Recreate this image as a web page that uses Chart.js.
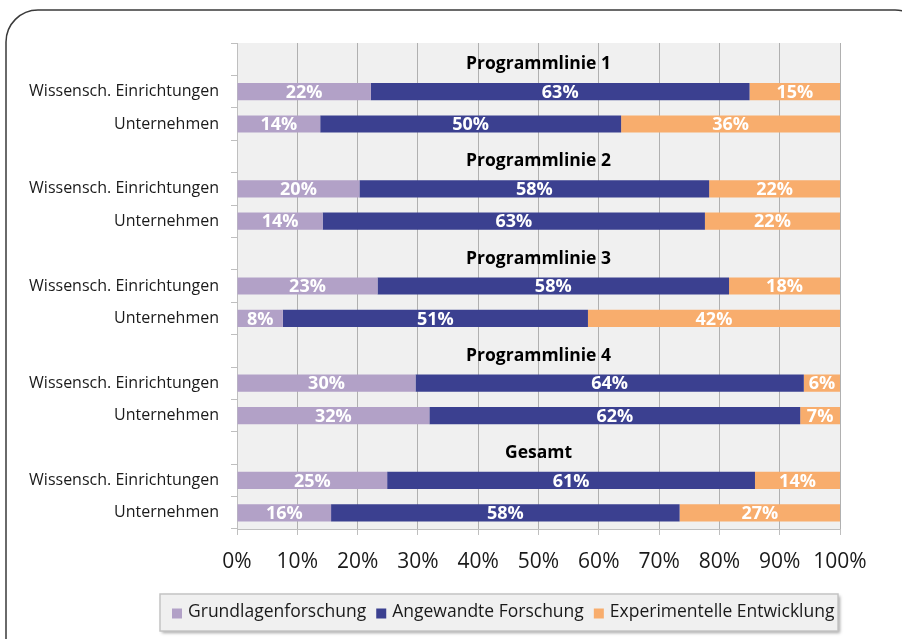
<!DOCTYPE html>
<html>
<head>
<meta charset="utf-8">
<script src="https://cdn.jsdelivr.net/npm/chart.js@4.4.1/dist/chart.umd.min.js"></script>
<style>
    html, body { margin: 0; padding: 0; background: #fff; }
    #wrap { width: 902px; height: 639px; }
</style>
</head>
<body>
<div id="wrap"><canvas id="chart" width="902" height="639"></canvas></div>
<script>
// Gruppen (Überschriften) und Zeilen je Gruppe
const groups = ['Programmlinie 1', 'Programmlinie 2', 'Programmlinie 3', 'Programmlinie 4', 'Gesamt'];
const rowLabels = ['Wissensch. Einrichtungen', 'Unternehmen'];

// Anteile in %, je Gruppe: Wissensch. Einrichtungen, Unternehmen
const grundlagen    = [22.2, 13.8, 20.3, 14.2, 23.3, 7.6, 29.6, 31.9, 24.9, 15.6];
const angewandt     = [62.8, 49.9, 58.0, 63.4, 58.3, 50.6, 64.4, 61.5, 61.0, 57.8];
const experimentell = [15.0, 36.3, 21.7, 22.4, 18.4, 41.8, 6.0, 6.6, 14.1, 26.6];

const seriesNames = ['Grundlagenforschung', 'Angewandte Forschung', 'Experimentelle Entwicklung'];
const seriesColors = ['#b2a1c7', '#3b4090', '#f8ad6d'];
const xTicks = [0, 10, 20, 30, 40, 50, 60, 70, 80, 90, 100];

const FONT = "'Open Sans', 'DejaVu Sans', sans-serif";

// build rows: heading row (empty) + two bars per group
const labels = [];
const headingRows = [];
const rows = [[], [], []];
groups.forEach((g, gi) => {
    headingRows.push({ index: labels.length, text: g });
    labels.push('');
    rows.forEach(r => r.push(null));
    rowLabels.forEach((lbl, ri) => {
        const k = gi * rowLabels.length + ri;
        labels.push(lbl);
        rows[0].push(grundlagen[k]);
        rows[1].push(angewandt[k]);
        rows[2].push(experimentell[k]);
    });
});

const plotBackground = {
    id: 'plotBackground',
    beforeDraw(chart) {
        const { ctx, chartArea: a } = chart;
        ctx.save();
        ctx.fillStyle = '#f0f0f0';
        ctx.fillRect(a.left, a.top, a.right - a.left, a.bottom - a.top);
        ctx.restore();
    }
};

// value labels in the bars and group headings in the plot
const barTexts = {
    id: 'barTexts',
    afterDatasetsDraw(chart) {
        const ctx = chart.ctx;
        const yScale = chart.scales.y;
        const a = chart.chartArea;
        ctx.save();
        ctx.textAlign = 'center';
        ctx.textBaseline = 'middle';
        ctx.font = 'bold 18px ' + FONT;
        ctx.fillStyle = '#ffffff';
        chart.data.datasets.forEach((ds, di) => {
            chart.getDatasetMeta(di).data.forEach((el, i) => {
                const v = ds.data[i];
                if (v == null) return;
                ctx.fillText(Math.round(v) + '%', (el.x + el.base) / 2, el.y + 1);
            });
        });
        ctx.font = 'bold 17.5px ' + FONT;
        ctx.fillStyle = '#000000';
        headingRows.forEach(h => {
            ctx.fillText(h.text, (a.left + a.right) / 2, yScale.getPixelForValue(h.index) + 5);
        });
        ctx.restore();
    }
};

// legend box below the chart
const legendBox = {
    id: 'legendBox',
    afterDraw(chart) {
        const ctx = chart.ctx;
        const box = { x: 160, y: 594, w: 678, h: 37 };
        ctx.save();
        ctx.shadowColor = 'rgba(0,0,0,0.35)';
        ctx.shadowOffsetX = 2;
        ctx.shadowOffsetY = 2;
        ctx.shadowBlur = 3;
        ctx.fillStyle = '#f0f0f0';
        ctx.fillRect(box.x, box.y, box.w, box.h);
        ctx.shadowColor = 'transparent';
        ctx.strokeStyle = '#c4c4c4';
        ctx.lineWidth = 1.5;
        ctx.strokeRect(box.x, box.y, box.w, box.h);

        ctx.font = '17.5px ' + FONT;
        ctx.textBaseline = 'middle';
        ctx.textAlign = 'left';
        let x = box.x + 12;
        const cy = box.y + box.h / 2;
        chart.data.datasets.forEach(ds => {
            ctx.fillStyle = ds.backgroundColor;
            ctx.fillRect(x, cy - 4, 10, 10);
            x += 16;
            ctx.fillStyle = '#1a1a1a';
            ctx.fillText(ds.label, x, cy);
            x += ctx.measureText(ds.label).width + 10;
        });
        ctx.restore();
    }
};

// rounded frame around the figure
const frame = {
    id: 'frame',
    afterDraw(chart) {
        const ctx = chart.ctx;
        ctx.save();
        ctx.strokeStyle = '#3a3a3a';
        ctx.lineWidth = 1.5;
        ctx.beginPath();
        ctx.roundRect(6, 10, 921, 700, 32);
        ctx.stroke();
        ctx.restore();
    }
};

new Chart(document.getElementById('chart'), {
    type: 'bar',
    data: {
        labels: labels,
        datasets: seriesNames.map((name, i) => ({
            label: name,
            data: rows[i],
            backgroundColor: seriesColors[i],
            borderWidth: 0,
            categoryPercentage: 1.0,
            barPercentage: 0.53
        }))
    },
    options: {
        indexAxis: 'y',
        responsive: false,
        animation: false,
        layout: { padding: { top: 43, right: 62, bottom: 60, left: 0 } },
        plugins: {
            legend: { display: false },
            tooltip: { enabled: false }
        },
        scales: {
            x: {
                stacked: true,
                min: 0,
                max: 100,
                afterBuildTicks(scale) {
                    scale.ticks = xTicks.map(v => ({ value: v }));
                },
                afterFit(scale) { scale.height = 50; },
                grid: {
                    color: '#b0b0b0',
                    borderDash: [6, 4],
                    tickColor: '#bfbfbf',
                    tickBorderDash: [],
                    tickLength: 6
                },
                border: { color: '#bfbfbf', width: 1 },
                ticks: {
                    padding: 14,
                    color: '#1a1a1a',
                    font: { family: FONT, size: 21 },
                    callback: v => v + '%'
                }
            },
            y: {
                stacked: true,
                afterFit(scale) { scale.width = 237; },
                grid: {
                    offset: true,
                    drawOnChartArea: false,
                    color: '#bfbfbf',
                    tickLength: 6
                },
                border: { color: '#bfbfbf', width: 1 },
                ticks: {
                    padding: 12,
                    color: '#1a1a1a',
                    font: { family: FONT, size: 16 }
                }
            }
        }
    },
    plugins: [plotBackground, barTexts, legendBox, frame]
});
</script>
</body>
</html>
